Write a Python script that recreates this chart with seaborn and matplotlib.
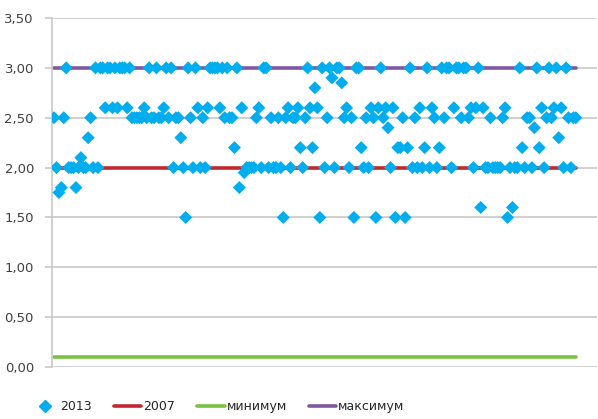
import numpy as np
import pandas as pd
import seaborn as sns
import matplotlib.pyplot as plt
from matplotlib.lines import Line2D

# 2013 values, read left to right off the chart
values_2013 = [
    2.5, 2.0, 1.75, 1.8, 2.5, 3.0, 2.0, 2.0, 2.0, 1.8, 2.0, 2.1, 2.0, 2.0, 2.3, 2.5,
    2.0, 3.0, 2.0, 3.0, 3.0, 2.6, 3.0, 3.0, 2.6, 3.0, 2.6, 3.0, 3.0, 3.0, 2.6, 3.0,
    2.5, 2.5, 2.5, 2.5, 2.5, 2.6, 2.5, 3.0, 2.5, 2.5, 3.0, 2.5, 2.5, 2.6, 3.0, 2.5,
    3.0, 2.0, 2.5, 2.5, 2.3, 2.0, 1.5, 3.0, 2.5, 2.0, 3.0, 2.6, 2.0, 2.5, 2.0, 2.6,
    3.0, 3.0, 3.0, 3.0, 2.6, 3.0, 2.5, 3.0, 2.5, 2.5, 2.2, 3.0, 1.8, 2.6, 1.95, 2.0,
    2.0, 2.0, 2.0, 2.5, 2.6, 2.0, 3.0, 3.0, 2.0, 2.5, 2.0, 2.0, 2.5, 2.0, 1.5, 2.5,
    2.6, 2.0, 2.5, 2.5, 2.6, 2.2, 2.0, 2.5, 3.0, 2.6, 2.2, 2.8, 2.6, 1.5, 3.0, 2.0,
    2.5, 3.0, 2.9, 2.0, 3.0, 3.0, 2.85, 2.5, 2.6, 2.0, 2.5, 1.5, 3.0, 3.0, 2.2, 2.0,
    2.5, 2.0, 2.6, 2.5, 1.5, 2.6, 3.0, 2.5, 2.6, 2.4, 2.0, 2.6, 1.5, 2.2, 2.2, 2.5,
    1.5, 2.2, 3.0, 2.0, 2.5, 2.0, 2.6, 2.0, 2.2, 3.0, 2.0, 2.6, 2.5, 2.0, 2.2, 3.0,
    2.5, 3.0, 3.0, 2.0, 2.6, 3.0, 3.0, 2.5, 3.0, 3.0, 2.5, 2.6, 2.0, 2.6, 3.0, 1.6,
    2.6, 2.0, 2.0, 2.5, 2.0, 2.0, 2.0, 2.0, 2.5, 2.6, 1.5, 2.0, 1.6, 2.0, 2.0, 3.0,
    2.2, 2.0, 2.5, 2.5, 2.0, 2.4, 3.0, 2.2, 2.6, 2.0, 2.5, 3.0, 2.5, 2.6, 3.0, 2.3,
    2.6, 2.0, 3.0, 2.5, 2.0, 2.5, 2.5,
]
value_2007 = 2.0
value_min = 0.1
value_max = 3.0

y_ticks = [0.0, 0.5, 1.0, 1.5, 2.0, 2.5, 3.0, 3.5]
y_labels = ['0,00', '0,50', '1,00', '1,50', '2,00', '2,50', '3,00', '3,50']

n = len(values_2013)
idx = np.arange(n)
df = pd.DataFrame({'idx': idx, '2013': values_2013})
lines = pd.DataFrame({
    'idx': np.concatenate([idx, idx, idx]),
    'value': [value_2007] * n + [value_min] * n + [value_max] * n,
    'series': ['2007'] * n + ['минимум'] * n + ['максимум'] * n,
})

sns.set_style('white')
plt.rcParams['font.family'] = ['DejaVu Sans']

fig = plt.figure(figsize=(5.98, 4.19), dpi=100)
ax = fig.add_axes([0.087, 0.124, 0.911, 0.833])

palette = {'2007': '#C1272D', 'минимум': '#7AC143', 'максимум': '#7F57A3'}
sns.lineplot(data=lines, x='idx', y='value', hue='series', palette=palette,
             linewidth=2.6, ax=ax, legend=False, zorder=2)
sns.scatterplot(data=df, x='idx', y='2013', marker='D', s=44, color='#00AEEF',
                edgecolor='none', ax=ax, zorder=3)

step = (576 - 54) / (n - 1)
ax.set_xlim(-2 / step, n - 1 + 21 / step)
ax.set_ylim(0, 3.5)
ax.set_yticks(y_ticks)
ax.set_yticklabels(y_labels, fontsize=9.5, color='#404040')
ax.set_xticks([])
ax.set_xlabel('')
ax.set_ylabel('')
for y in y_ticks:
    ax.axhline(y, color='#C8C8C8', linewidth=1.2, zorder=0)
ax.tick_params(axis='y', length=5, width=1.2, color='#C8C8C8', pad=8, left=True)
for s in ['top', 'right', 'bottom']:
    ax.spines[s].set_visible(False)
ax.spines['left'].set_color('#C8C8C8')
ax.spines['left'].set_linewidth(1.2)

handles = [
    Line2D([], [], marker='D', linestyle='none', color='#00AEEF', markersize=6),
    Line2D([], [], color='#C1272D', linewidth=2.6),
    Line2D([], [], color='#7AC143', linewidth=2.6),
    Line2D([], [], color='#7F57A3', linewidth=2.6),
]
fig.legend(handles, ['2013', '2007', 'минимум', 'максимум'], loc='center left',
           bbox_to_anchor=(0.052, 0.029), ncol=4, frameon=False, fontsize=9,
           handlelength=2.2, handletextpad=0.15, columnspacing=1.75,
           borderpad=0, borderaxespad=0)

fig.savefig('out.png', dpi=100)
